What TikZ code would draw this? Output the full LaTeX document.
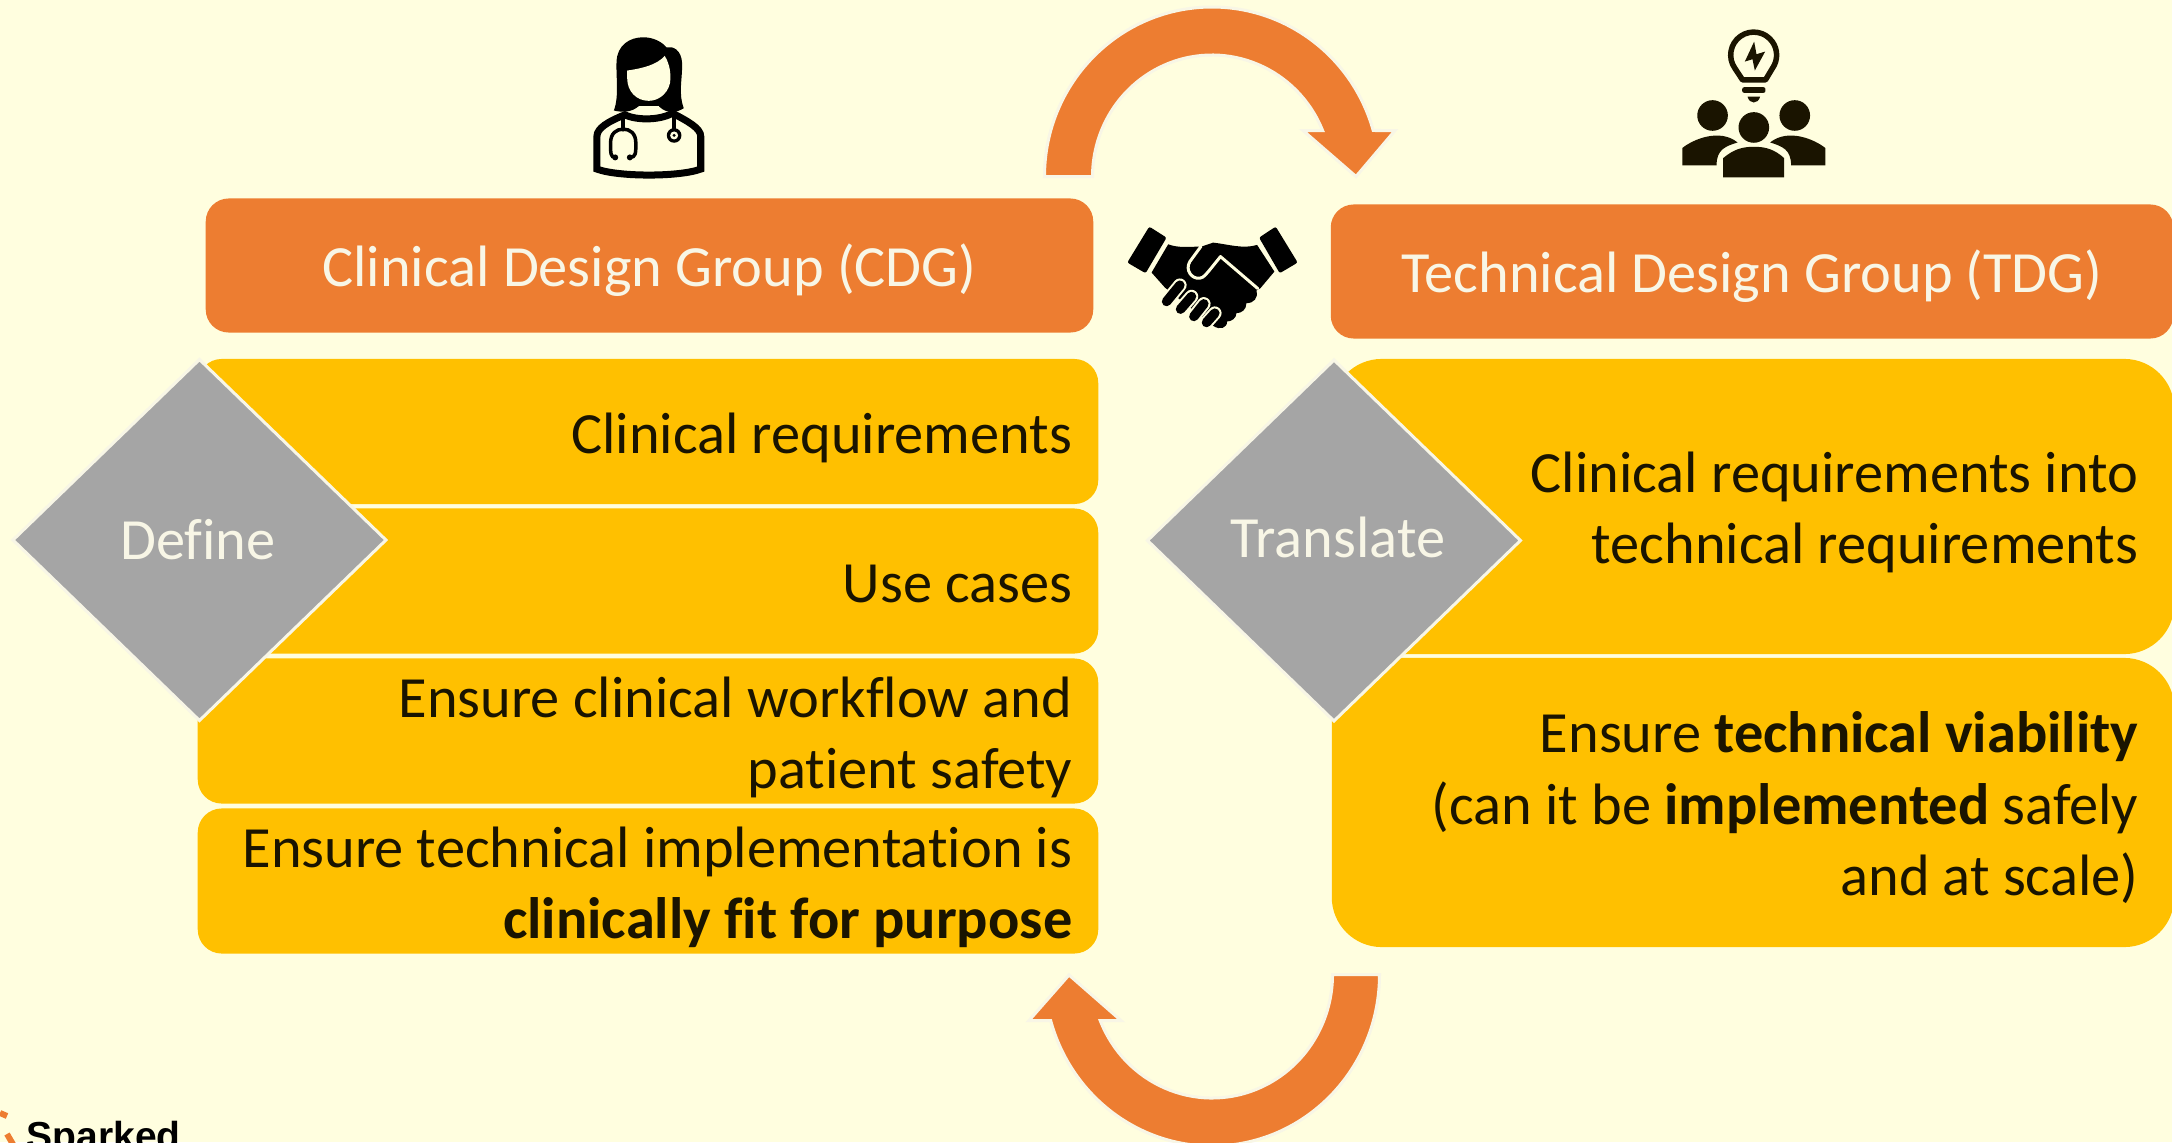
\documentclass[tikz,border=0pt]{standalone}
\usepackage{fontspec}
\setmainfont[Ligatures=NoCommon]{Carlito}
\newfontfamily\logofont{Liberation Sans}
\usetikzlibrary{shapes.geometric}
\definecolor{creambg}{HTML}{FFFEDF}
\definecolor{paleedge}{HTML}{F8F6E6}
\definecolor{orangebar}{HTML}{ED7D31}
\definecolor{amberrow}{HTML}{FFC000}
\definecolor{greydiamond}{HTML}{A5A5A5}
\definecolor{iconink}{HTML}{1A1400}
\tikzset{
	headbox/.style={fill=orangebar, rounded corners=0.23cm, text=paleedge, font=\fontsize{16.6}{20.2}\selectfont, minimum height=1.34cm, text height=0.52cm, text depth=0.11cm},
	rowbox/.style={fill=amberrow, text=iconink, inner xsep=0pt, inner ysep=0pt, align=flush right, font=\fontsize{16.6}{20.2}\selectfont, execute at begin node={\rule{0pt}{0.54cm}}, execute at end node={\rule[-0.11cm]{0pt}{0pt}}},
	leftrow/.style={rowbox, rounded corners=0.24cm, minimum width=9cm, minimum height=1.45cm, text width=8.48cm},
	rightrow/.style={rowbox, rounded corners=0.5cm, minimum width=8.42cm, text width=7.7cm},
	roundarrow/.style={fill=orangebar, draw=paleedge, line width=0.03cm},
	decision/.style={diamond, fill=greydiamond, draw=paleedge, line width=0.03cm, inner sep=0pt, minimum width=3.74cm, minimum height=3.62cm},
	decisiontext/.style={text=paleedge, inner sep=0pt, font=\fontsize{16.6}{20.2}\selectfont},
	iconscope/.style={x=0.003333cm, y=-0.003333cm},
}
\begin{document}
\begin{tikzpicture}[x=0.01cm, y=-0.01cm]
			%%%%% START %%%%%
			\useasboundingbox (0, 0) rectangle (2172, 1142);
			\fill[creambg] (0, 0) rectangle (2172, 1142);
			
			\draw[roundarrow] (1044.5, 176.5) arc[start angle=180, end angle=344.25, x radius=167.5, y radius=169.5] -- (1395, 130.5) -- (1356, 176.5) -- (1303, 130.5) -- (1322.6, 130.5) arc[start angle=337.75, end angle=180, x radius=119.5, y radius=121.5] -- cycle;
			\draw[roundarrow] (1379.5, 974.5) arc[start angle=0, end angle=164.44, x radius=167.5, y radius=171.5] -- (1029, 1020.5) -- (1069, 975) -- (1121, 1020.5) -- (1100.2, 1020.5) arc[start angle=158.13, end angle=0, x radius=120.5, y radius=123.5] -- cycle;
			
			\node[headbox, minimum width=8.87cm] (cdg) at (649.5, 265.5) {Clinical Design Group (CDG)};
			\node[headbox, minimum width=8.42cm] (tdg) at (1752, 271.5) {Technical Design Group (TDG)};
			
			\node[leftrow] (requirements) at (648, 431.5) {Clinical requirements};
			\node[leftrow] (usecases) at (648, 581) {Use cases};
			\node[leftrow] (workflow) at (648, 731) {Ensure clinical workflow and\\patient safety};
			\node[leftrow] (fitness) at (648, 881) {Ensure technical implementation is\\\textbf{clinically fit for purpose}};
			
			\node[rightrow, minimum height=2.95cm] (translation) at (1753, 506.5) {Clinical requirements into\\technical requirements};
			\node[rightrow, minimum height=2.89cm] (viability) at (1753, 802.5) {Ensure \textbf{technical viability}\\(can it be \textbf{implemented} safely\\and at scale)};
			
			\node[decision] (define) at (199.5, 540) {};
			\node[decision] (translate) at (1334, 540.5) {};
			\node[decisiontext] (definetext) at (198, 540) {Define};
			\node[decisiontext] (translatetext) at (1338, 537) {Translate};
			
			% doctor
			\begin{scope}[shift={(540, 0)}, iconscope]
				\fill[black] (222, 332) .. controls (238, 290) and (228, 230) .. (230, 185) .. controls (232, 135) and (270, 112) .. (310, 112) .. controls (340, 112) and (365, 125) .. (380, 142) .. controls (400, 138) and (425, 150) .. (427, 190) .. controls (428, 240) and (415, 280) .. (432, 325) .. controls (410, 340) and (380, 342) .. (358, 320) -- (295, 320) .. controls (275, 338) and (245, 338) .. (222, 332) -- cycle;
				\fill[creambg] (262, 212) .. controls (310, 205) and (350, 195) .. (375, 168) .. controls (385, 185) and (392, 205) .. (392, 235) .. controls (392, 275) and (360, 303) .. (327, 303) .. controls (290, 303) and (262, 275) .. (262, 235) -- cycle;
				\fill[creambg] (296, 318) rectangle (358, 330);
				\draw[black, line width=0.07cm] (171, 508) -- (171, 410) .. controls (171, 385) and (205, 365) .. (255, 345) .. controls (290, 362) and (360, 362) .. (398, 340) .. controls (445, 365) and (483, 385) .. (483, 410) -- (483, 508) .. controls (420, 532) and (235, 532) .. (171, 508) -- cycle;
				\draw[black, line width=0.035cm, line cap=round] (250, 350) -- (250, 390);
				\draw[black, line width=0.035cm, line cap=round] (226, 473) .. controls (212, 473) and (212, 460) .. (212, 430) .. controls (212, 400) and (230, 388) .. (250, 388) .. controls (270, 388) and (288, 400) .. (288, 430) .. controls (288, 460) and (288, 473) .. (270, 473);
				\fill[black] (226, 473) circle (9) (270, 473) circle (9);
				\draw[black, line width=0.035cm] (403, 345) -- (403, 390);
				\fill[black] (403, 407) circle (22);
				\fill[creambg] (403, 407) circle (12);
				\fill[black] (403, 407) circle (5);
			\end{scope}
			
			% handshake
			\begin{scope}[shift={(1100, 200)}, iconscope]
				\fill[black, rounded corners=0.02cm] (148, 80) -- (200, 113) -- (137, 220) -- (82, 188) -- cycle;
				\fill[black, rounded corners=0.02cm] (528, 80) -- (478, 113) -- (540, 220) -- (594, 188) -- cycle;
				\fill[black] (205, 133) .. controls (235, 145) and (270, 140) .. (305, 140) -- (340, 128) .. controls (385, 133) and (430, 148) .. (472, 135) -- (524, 215) -- (482, 265) -- (470, 272) .. controls (476, 295) and (462, 310) .. (440, 310) .. controls (440, 330) and (425, 340) .. (410, 340) .. controls (410, 355) and (395, 365) .. (382, 365) .. controls (382, 385) and (360, 392) .. (340, 378) -- (195, 263) -- (155, 218) -- cycle;
				\draw[creambg, line width=0.03cm, line cap=round, line join=round] (303, 140) -- (270, 185) .. controls (255, 210) and (275, 238) .. (300, 235) .. controls (312, 234) and (320, 222) .. (362, 170) -- (474, 266);
				\foreach \ax/\ay/\bx/\by in {240/256/200/305, 275/290/242/328, 312/312/282/350, 345/340/320/368} {
					\draw[creambg, line width=0.135cm, line cap=round] (\ax, \ay) -- (\bx, \by);
				}
				\foreach \ax/\ay/\bx/\by in {240/256/200/305, 275/290/242/328, 312/312/282/350, 345/340/320/368} {
					\draw[black, line width=0.095cm, line cap=round] (\ax, \ay) -- (\bx, \by);
				}
			\end{scope}
			
			% team
			\begin{scope}[shift={(1640, 0)}, iconscope]
				\draw[iconink, line width=0.055cm, line join=round] (308, 240) -- (285, 205) arc[start angle=145, end angle=395, radius=69] -- (377, 240) -- cycle;
				\fill[iconink, rounded corners=0.02cm] (307, 262) rectangle (377, 279);
				\fill[iconink] (323, 290) -- (361, 290) .. controls (358, 302) and (350, 308) .. (342, 308) .. controls (334, 308) and (326, 302) .. (323, 290) -- cycle;
				\fill[iconink] (343, 125) -- (315, 185) -- (338, 178) -- (345, 212) -- (376, 155) -- (350, 163) -- cycle;
				\fill[iconink] (218, 347) circle (46) (465, 347) circle (46) (342, 383) circle (46);
				\fill[iconink] (250, 533) -- (250, 475) .. controls (280, 450) and (305, 441) .. (342, 441) .. controls (380, 441) and (405, 450) .. (433, 475) -- (433, 533) -- cycle;
				\fill[iconink] (127, 497) -- (127, 445) .. controls (160, 418) and (240, 385) .. (293, 428) .. controls (255, 440) and (230, 450) .. (230, 497) -- cycle;
				\fill[iconink] (557, 497) -- (557, 445) .. controls (524, 418) and (444, 385) .. (391, 428) .. controls (429, 440) and (454, 450) .. (454, 497) -- cycle;
			\end{scope}
			
			% logo cut by the page edge
			\draw[orangebar, line width=0.06cm] (0, 1113) -- (7, 1116);
			\draw[orangebar, line width=0.06cm] (7, 1134) -- (14, 1146);
			\node[anchor=base west, inner sep=0pt, text=black, font=\logofont\bfseries\fontsize{11.1}{13}\selectfont] (sparked) at (26, 1149) {Sparked};
			
			%%%%% END %%%%%
\end{tikzpicture}
\end{document}
